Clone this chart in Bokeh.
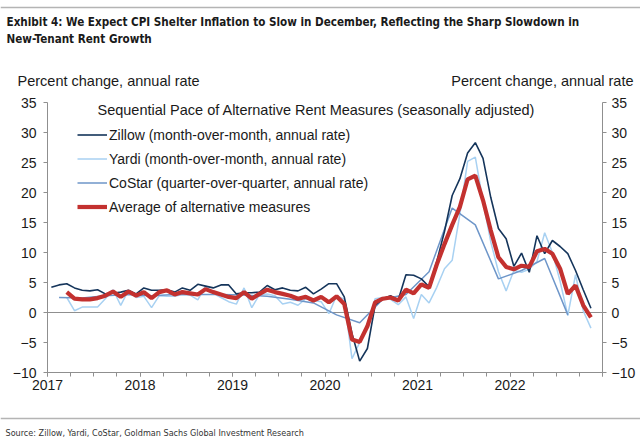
import numpy as np
from bokeh.plotting import figure
from bokeh.models import (Range1d, LinearAxis, FixedTicker, Span, Label, Legend,
                          LegendItem)
from bokeh.embed import file_html
from bokeh.resources import INLINE

# ---------------- data ----------------
# Zillow, month-over-month annualized, Jan 2017 .. Nov 2022
zillow = [4.2, 4.6, 4.8, 4.1, 3.7, 3.6, 3.8, 3.1, 3.2, 3.4,
          3.7, 3.1, 4.1, 3.7, 3.7, 3.8, 3.4, 4.1, 3.7, 4.7,
          4.4, 4.1, 4.6, 4.6, 3.1, 3.3, 3.3, 3.4, 4.5, 3.8,
          4.1, 3.7, 3.6, 4.2, 3.1, 3.9, 4.8, 4.8, 2.6, -3.5,
          -8.1, -6.0, 1.2, 2.3, 2.8, 2.1, 6.3, 6.2, 5.6, 4.3,
          8.5, 13.5, 19.5, 22.3, 26.6, 28.3, 25.7, 19.2, 14.0, 12.3,
          7.7, 9.9, 6.7, 12.8, 9.8, 12.0, 11.0, 9.8, 7.0, 3.8,
          0.7]
zillow_start_month = 0          # months after Jan 2017

# Yardi, month-over-month annualized, Mar 2017 .. Nov 2022
yardi = [2.5, 0.3, 0.9, 0.9, 0.9, 2.3, 3.8, 1.2,
         3.7, 2.5, 2.7, 0.8, 2.8, 2.7, 2.7, 3.0, 2.9, 2.1,
         4.4, 3.2, 2.5, 1.8, 1.4, 4.1, 0.8, 3.0, 3.1, 2.8,
         1.4, 1.7, 1.2, 2.3, 2.0, 1.8, -0.2, 2.8, 2.2, -7.7,
         -5.0, -2.5, 2.3, 2.5, 2.2, 1.3, 2.6, -1.0, 3.0, 1.6,
         4.2, 7.3, 8.7, 16.4, 25.2, 25.9, 18.5, 11.8, 6.8, 3.6,
         7.0, 6.7, 7.2, 8.5, 13.3, 10.0, 5.2, -0.5, 6.3, 0.3,
         -2.6]
yardi_start_month = 2

# CoStar, quarter-over-quarter annualized, Q1 2017 .. Q3 2022 (mid-quarter)
costar = [2.5, 2.4, 2.8, 3.0, 2.8, 3.0, 3.0, 3.0, 2.9, 2.7, 2.2, 1.6,
          -0.4, -1.7, 2.2, 3.0, 6.8, 17.4, 14.6, 5.6, 7.0, 9.0, -0.4]
costar_start_month = 1

# Average of alternative measures, Mar 2017 .. Nov 2022
average = [3.4, 2.3, 2.2, 2.2, 2.4, 2.8, 3.5, 2.6,
           3.5, 2.8, 3.4, 2.4, 3.4, 3.7, 3.0, 3.4, 3.2, 3.0,
           3.9, 3.4, 3.0, 2.6, 2.4, 3.4, 2.3, 3.1, 3.8, 3.4,
           3.1, 2.8, 2.3, 2.6, 2.0, 2.6, 1.7, 2.7, 1.4, -4.5,
           -4.9, -2.3, 1.7, 2.3, 2.5, 2.0, 3.8, 3.2, 4.7, 4.1,
           8.0, 11.4, 14.6, 17.6, 22.2, 22.8, 18.7, 13.7, 9.2, 7.6,
           7.2, 7.8, 7.6, 10.2, 10.6, 9.8, 7.3, 3.1, 4.5, 1.2,
           -0.8]
average_start_month = 2

year_ticks = [2017, 2018, 2019, 2020, 2021, 2022, 2023]
year_labels = ["2017", "2018", "2019", "2020", "2021", "2022", ""]
y_ticks = [-10, -5, 0, 5, 10, 15, 20, 25, 30, 35]

labels = ["Zillow (month-over-month, annual rate)",
          "Yardi (month-over-month, annual rate)",
          "CoStar (quarter-over-quarter, annual rate)",
          "Average of alternative measures"]


def month_x(start, n, step=1):
    m = start + step * np.arange(n)
    return 2017 + (m + 0.5) / 12.0


FONT = "'Liberation Sans', Arial, sans-serif"
NARROW = "'Noto Sans Condensed', 'DejaVu Sans Condensed', sans-serif"
AXIS_COL = "#8f8f8f"
TXT = "#1a1a1a"
FS = "14px"

W, H = 640, 443
# plot area (axes box) in page pixels
L, R, T, B = 47, 602, 102, 372
x0, x1 = year_ticks[0], year_ticks[-1]
y0, y1 = y_ticks[0], y_ticks[-1]
sx = (x1 - x0) / (R - L)
sy = (y1 - y0) / (B - T)

p = figure(width=W, height=H, output_backend="svg", toolbar_location=None,
           x_range=Range1d(x0 - L * sx, x1 + (W - R) * sx),
           y_range=Range1d(y0 - (H - B) * sy, y1 + T * sy),
           min_border_left=0, min_border_right=0, min_border_top=0,
           min_border_bottom=0)
p.outline_line_color = None
p.xgrid.visible = False
p.ygrid.visible = False
p.background_fill_color = "white"
p.border_fill_color = "white"

# axes, fixed at the edges of the chart box
xa = p.xaxis[0]
xa.ticker = FixedTicker(ticks=year_ticks,
                        minor_ticks=list(np.arange(2017, 2023.01, 0.25)))
xa.major_label_overrides = {t: l for t, l in zip(year_ticks, year_labels)}
xa.fixed_location = y0
xa.bounds = (x0, x1)
ya = p.yaxis[0]
ya.ticker = FixedTicker(ticks=y_ticks)
ya.fixed_location = x0
ya.bounds = (y0, y1)
ra = LinearAxis(ticker=FixedTicker(ticks=y_ticks), fixed_location=x1, bounds=(y0, y1))
p.add_layout(ra, "right")

for ax in (xa, ya, ra):
    ax.axis_line_color = AXIS_COL
    ax.major_tick_line_color = AXIS_COL
    ax.minor_tick_line_color = AXIS_COL
    ax.major_tick_in = 0
    ax.major_tick_out = 4
    ax.minor_tick_in = 0
    ax.minor_tick_out = 4
    ax.major_label_text_font = FONT
    ax.major_label_text_font_size = FS
    ax.major_label_text_color = TXT
for ax in (ya, ra):
    ax.minor_tick_line_color = None
ya.major_label_standoff = 7
ra.major_label_standoff = 5
xa.major_label_standoff = 3

# zero line across the chart box
p.line([x0, x1], [0, 0], line_color=AXIS_COL, line_width=1)

# series
r_y = p.line(month_x(yardi_start_month, len(yardi)), yardi,
             line_color="#a8d1f2", line_width=1.5)
r_c = p.line(month_x(costar_start_month, len(costar), 3), costar,
             line_color="#6e96c9", line_width=1.5)
r_z = p.line(month_x(zillow_start_month, len(zillow)), zillow,
             line_color="#15355b", line_width=1.6)
r_a = p.line(month_x(average_start_month, len(average)), average,
             line_color="#c3312f", line_width=4.2)

legend = Legend(items=[LegendItem(label=labels[0], renderers=[r_z]),
                       LegendItem(label=labels[1], renderers=[r_y]),
                       LegendItem(label=labels[2], renderers=[r_c]),
                       LegendItem(label=labels[3], renderers=[r_a])],
                location=(77, 227), padding=0, margin=0, spacing=5,
                glyph_width=30, glyph_height=19, label_height=19,
                label_standoff=2, label_text_font=FONT,
                label_text_font_size=FS, label_text_color=TXT,
                background_fill_alpha=0, border_line_alpha=0)
p.add_layout(legend, "center")


def lab(text, x, y, size, font=FONT, style="normal", align="left", color=TXT):
    # x, y given in page pixels from the top-left corner
    p.add_layout(Label(x=x, y=H - y, x_units="screen", y_units="screen", text=text,
                       text_font=font, text_font_size=size,
                       text_font_style=style, text_align=align,
                       text_baseline="middle", text_color=color))


lab("Sequential Pace of Alternative Rent Measures (seasonally adjusted)", 97, 109, "14.5px")
lab("Percent change, annual rate", 17, 80, "14.5px")
lab("Percent change, annual rate", 633, 80, "14.5px", align="right")
lab("Exhibit 4: We Expect CPI Shelter Inflation to Slow in December, Reflecting the Sharp Slowdown in",
    6, 21, "11.6px", font=NARROW, style="bold")
lab("New-Tenant Rent Growth", 6, 38, "11.6px", font=NARROW, style="bold")
lab("Source: Zillow, Yardi, CoStar, Goldman Sachs Global Investment Research",
    5, 432, "9px", font=NARROW, color="#333333")

p.add_layout(Span(location=H - 7, location_units="screen", dimension="width",
                  line_color="#b4b4b4", line_width=1.5))
p.add_layout(Span(location=H - 418, location_units="screen", dimension="width",
                  line_color="#b4b4b4", line_width=1.5))

open("out.html", "w").write(file_html(p, INLINE))
